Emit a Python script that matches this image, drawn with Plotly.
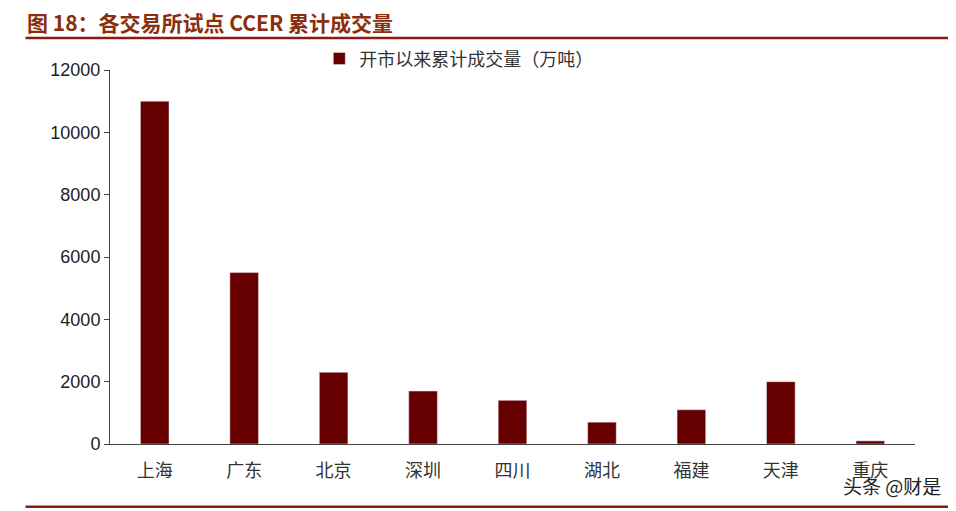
import plotly.graph_objects as go

categories = ["上海", "广东", "北京", "深圳", "四川", "湖北", "福建", "天津", "重庆"]
volumes = [11000, 5500, 2300, 1700, 1400, 700, 1100, 2000, 100]
y_ticks = [0, 2000, 4000, 6000, 8000, 10000, 12000]

fig = go.Figure()
fig.add_trace(go.Bar(x=categories, y=volumes, name="开市以来累计成交量（万吨）",
                     marker_color="#660000", width=0.32))

fig.update_layout(
    width=956, height=511,
    paper_bgcolor="white", plot_bgcolor="white",
    margin=dict(l=102, r=49, t=62, b=75, autoexpand=False),
    font=dict(family="Noto Sans CJK SC", size=17, color="#333333"),
    showlegend=True,
    legend=dict(x=0.26, y=1.03, xanchor="left", yanchor="middle",
                bgcolor="rgba(0,0,0,0)",
                font=dict(size=18, color="#333333"), itemwidth=30),
    xaxis=dict(showline=True, linecolor="#444444", linewidth=1, ticks="",
               ticklabelstandoff=10,
               tickfont=dict(size=18, color="#333333")),
    yaxis=dict(range=[0, 12000], tickvals=y_ticks, tickformat="d", showgrid=False,
               showline=True, linecolor="#444444", linewidth=1, ticks="outside",
               ticklen=5, tickcolor="#444444",
               tickfont=dict(family="Liberation Sans", size=18, color="#222222")),
    shapes=[
        dict(type="line", xref="paper", yref="paper", x0=-0.105, x1=1.045,
             y0=1.0856, y1=1.0856, line=dict(color="#8B1A10", width=2.5)),
        dict(type="line", xref="paper", yref="paper", x0=-0.105, x1=1.045,
             y0=-0.168, y1=-0.168, line=dict(color="#8B1A10", width=2.5)),
    ],
    annotations=[
        dict(x=-0.105, y=1.128, xref="paper", yref="paper", xanchor="left",
             yanchor="middle", showarrow=False,
             text="<b>图 18：各交易所试点 CCER 累计成交量</b>",
             font=dict(size=21, color="#8B2E0E")),
        dict(x=1.035, y=-0.11, xref="paper", yref="paper", xanchor="right",
             yanchor="middle", showarrow=False, text="头条 @财是",
             font=dict(size=19, color="#222222")),
    ],
)

fig.write_html("out.html")
